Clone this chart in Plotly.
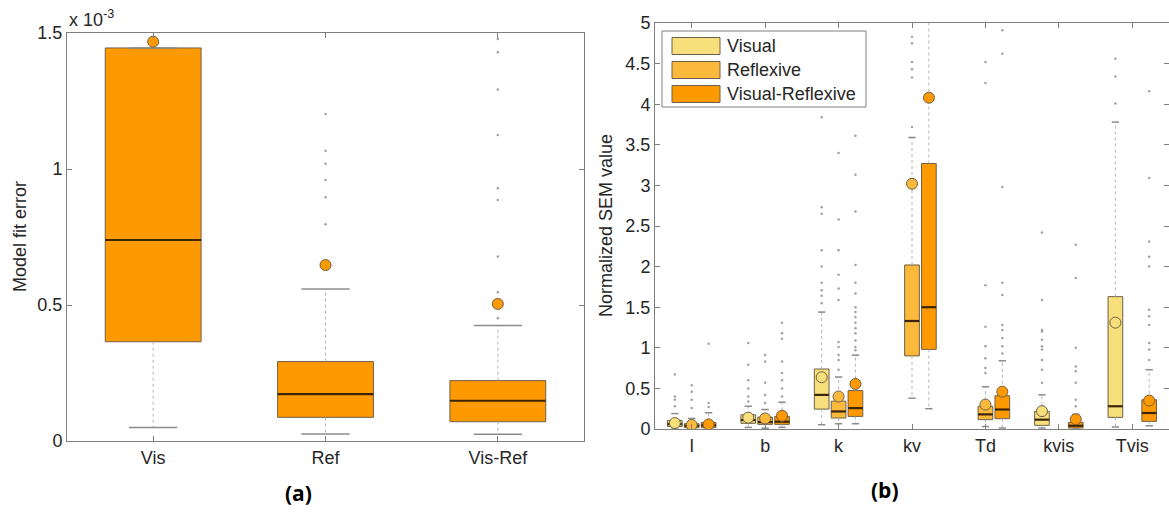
import plotly.graph_objects as go

# ---------------- Panel (a): model fit error per model ----------------
models = ["Vis", "Ref", "Vis-Ref"]
fit_q1 = [0.365e-3, 0.087e-3, 0.071e-3]
fit_med = [0.739e-3, 0.172e-3, 0.148e-3]
fit_q3 = [1.445e-3, 0.292e-3, 0.222e-3]
fit_lo = [0.050e-3, 0.026e-3, 0.025e-3]
fit_hi = [1.445e-3, 0.559e-3, 0.425e-3]
fit_mark = [1.468e-3, 0.647e-3, 0.504e-3]
fit_outliers = [
    [],
    [1.202e-3, 1.067e-3, 1.019e-3, 0.960e-3, 0.896e-3, 0.797e-3],
    [1.478e-3, 1.429e-3, 1.292e-3, 1.125e-3, 0.929e-3, 0.886e-3, 0.678e-3, 0.547e-3, 0.451e-3],
]
fit_ticks = [0, 0.5e-3, 1.0e-3, 1.5e-3]
fit_ticktext = ["0", "0.5", "1", "1.5"]

# ---------------- Panel (b): normalized SEM per parameter ----------------
params = ["l", "b", "k", "kv", "Td", "kvis", "Tvis"]
series_names = ["Visual", "Reflexive", "Visual-Reflexive"]

vis_q1 = [0.03, 0.07, 0.245, None, None, 0.045, 0.143]
vis_med = [0.06, 0.11, 0.42, None, None, 0.115, 0.28]
vis_q3 = [0.105, 0.175, 0.739, None, None, 0.217, 1.63]
vis_lo = [0.0, 0.02, 0.053, None, None, 0.012, 0.025]
vis_hi = [0.19, 0.28, 1.44, None, None, 0.42, 3.78]
vis_mark = [0.073, 0.14, 0.637, None, None, 0.22, 1.31]
vis_out = [
    [0.28, 0.36, 0.40, 0.67],
    [0.34, 0.40, 0.50, 0.60, 0.79, 1.06],
    [1.55, 1.64, 1.71, 1.80, 2.0, 2.2, 2.65, 2.73, 3.84],
    [],
    [],
    [0.57, 0.73, 0.85, 0.98, 1.02, 1.10, 1.20, 1.22, 1.59, 2.42],
    [4.01, 4.34, 4.56],
]

ref_q1 = [0.016, 0.057, 0.135, 0.90, 0.115, None, None]
ref_med = [0.04, 0.085, 0.216, 1.33, 0.18, None, None]
ref_q3 = [0.065, 0.147, 0.343, 2.02, 0.28, None, None]
ref_lo = [0.0, 0.01, 0.065, 0.38, 0.03, None, None]
ref_hi = [0.13, 0.24, 0.64, 3.59, 0.52, None, None]
ref_mark = [0.05, 0.13, 0.40, 3.02, 0.30, None, None]
ref_out = [
    [0.26, 0.36, 0.46, 0.54],
    [0.32, 0.42, 0.57, 0.83, 0.91],
    [0.73, 0.85, 0.91, 1.01, 1.07, 1.59, 1.73, 1.90, 2.2, 2.58, 3.40],
    [3.72, 4.33, 4.43, 4.52, 4.75, 4.83],
    [0.69, 0.75, 0.87, 1.02, 1.26, 1.77, 4.26, 4.52],
    [],
    [],
]

vr_q1 = [0.016, 0.057, 0.155, 0.98, 0.127, 0.012, 0.094]
vr_med = [0.045, 0.09, 0.257, 1.50, 0.24, 0.04, 0.197]
vr_q3 = [0.08, 0.155, 0.473, 3.27, 0.41, 0.082, 0.36]
vr_lo = [0.0, 0.02, 0.065, 0.25, 0.012, 0.0, 0.04]
vr_hi = [0.20, 0.33, 0.91, 5.6, 0.84, 0.18, 0.73]
vr_mark = [0.057, 0.163, 0.555, 4.08, 0.46, 0.12, 0.35]
vr_out = [
    [0.27, 0.32, 1.05],
    [0.40, 0.50, 0.60, 0.69, 0.83, 1.11, 1.18, 1.31],
    [0.97, 1.01, 1.09, 1.18, 1.24, 1.31, 1.38, 1.44, 1.50, 1.67, 1.80, 2.02, 2.68, 3.13, 3.61],
    [],
    [0.93, 1.02, 1.12, 1.22, 1.28, 1.65, 1.80, 2.98, 4.62, 4.91],
    [0.28, 0.36, 0.57, 0.71, 0.77, 1.0, 1.86, 2.27],
    [0.85, 0.98, 1.06, 1.28, 1.39, 1.47, 2.0, 2.12, 2.31, 3.09, 4.16],
]
sem_ticks = [0, 0.5, 1, 1.5, 2, 2.5, 3, 3.5, 4, 4.5, 5]

# ---------------- styling ----------------
FONT = "Liberation Sans, Arial, sans-serif"
FS = 18
TXT = "#262626"
AXIS_GRAY = "#7f7f7f"
EDGE = "#6e6048"
MEDIAN = "#3a2508"
WHISKER = "#b4b4b4"
CAP = "#8c8c8c"
OUTLIER = "#a0a0a0"
COL_VIS = "#f7df7c"
COL_REF = "#fbb93c"
COL_VR = "#ff9900"
W, H = 1169, 514

fig = go.Figure()


def add_box_series(xs, q1, med, q3, lo, hi, mark, outl, color, width, capw,
                   xa, ya, mark_size):
    keep = [i for i in range(len(xs)) if q1[i] is not None]
    px = [xs[i] for i in keep]

    wx, wy, cx, cy, mx, my = [], [], [], [], [], []
    for i, p in zip(keep, px):
        wx += [p, p, None, p, p, None]
        wy += [q3[i], hi[i], None, q1[i], lo[i], None]
        cx += [p - capw / 2, p + capw / 2, None, p - capw / 2, p + capw / 2, None]
        cy += [hi[i], hi[i], None, lo[i], lo[i], None]
        mx += [p - width / 2, p + width / 2, None]
        my += [med[i], med[i], None]

    ox, oy = [], []
    for i, p in zip(keep, px):
        ox += [p] * len(outl[i])
        oy += outl[i]

    common = dict(xaxis=xa, yaxis=ya, showlegend=False, hoverinfo="skip")
    fig.add_trace(go.Scatter(x=wx, y=wy, mode="lines",
                             line=dict(color=WHISKER, width=1, dash="dot"), **common))
    fig.add_trace(go.Scatter(x=cx, y=cy, mode="lines",
                             line=dict(color=CAP, width=1.5), **common))
    fig.add_trace(go.Scatter(x=ox, y=oy, mode="markers",
                             marker=dict(color=OUTLIER, size=2.5, line=dict(width=0)),
                             **common))
    fig.add_trace(go.Bar(x=px, y=[q3[i] - q1[i] for i in keep], base=[q1[i] for i in keep],
                         width=width, marker=dict(color=color, line=dict(color=EDGE, width=1)),
                         **common))
    fig.add_trace(go.Scatter(x=mx, y=my, mode="lines",
                             line=dict(color=MEDIAN, width=2.2), **common))
    fig.add_trace(go.Scatter(x=px, y=[mark[i] for i in keep], mode="markers",
                             marker=dict(color=color, size=mark_size,
                                         line=dict(color=EDGE, width=1)),
                             **common))


# panel (a)
pos_a = list(range(1, len(models) + 1))
add_box_series(pos_a, fit_q1, fit_med, fit_q3, fit_lo, fit_hi, fit_mark, fit_outliers,
               COL_VR, 0.556, 0.28, "x", "y", 11)

# panel (b)
pos_b = list(range(1, len(params) + 1))
offsets = [-0.23, 0.0, 0.23]
groups = [
    (vis_q1, vis_med, vis_q3, vis_lo, vis_hi, vis_mark, vis_out, COL_VIS),
    (ref_q1, ref_med, ref_q3, ref_lo, ref_hi, ref_mark, ref_out, COL_REF),
    (vr_q1, vr_med, vr_q3, vr_lo, vr_hi, vr_mark, vr_out, COL_VR),
]
for off, g in zip(offsets, groups):
    xs = [p + off for p in pos_b]
    add_box_series(xs, *g[:7], g[7], 0.2, 0.1, "x2", "y2", 11)

axis_common = dict(
    showline=True, linecolor=AXIS_GRAY, linewidth=1, mirror="ticks",
    ticks="inside", ticklen=5, tickcolor=AXIS_GRAY, showgrid=False, zeroline=False,
    automargin=False, tickfont=dict(family=FONT, size=FS, color=TXT),
)

# panel frames in pixel terms
A_L, A_R, A_T, A_B = 67, 584, 33, 441
B_L, B_R, B_T, B_B = 655, 1169, 23, 429

fig.update_layout(
    width=W, height=H,
    margin=dict(l=0, r=0, t=0, b=0, autoexpand=False),
    paper_bgcolor="white", plot_bgcolor="white",
    barmode="overlay", showlegend=False,
    xaxis=dict(domain=[A_L / W, A_R / W], range=[0.5, 3.5], tickvals=pos_a,
               ticktext=models, anchor="y", **axis_common),
    yaxis=dict(domain=[1 - A_B / H, 1 - A_T / H], range=[0, 1.5e-3], tickvals=fit_ticks,
               ticktext=fit_ticktext, anchor="x", **axis_common),
    xaxis2=dict(domain=[B_L / W, B_R / W], range=[0.5, 7.5], tickvals=pos_b,
                ticktext=params, anchor="y2", **axis_common),
    yaxis2=dict(domain=[1 - B_B / H, 1 - B_T / H], range=[0, 5], tickvals=sem_ticks,
                ticktext=[f"{t:g}" for t in sem_ticks], anchor="x2", **axis_common),
)

annotations = [
    dict(text="x 10<sup>-3</sup>", x=A_L / W, y=1 - A_T / H, xref="paper", yref="paper",
         xanchor="left", yanchor="bottom", yshift=1, showarrow=False,
         font=dict(family=FONT, size=FS, color=TXT)),
    dict(text="Model fit error", x=20 / W, y=1 - (A_T + A_B) / 2 / H, xref="paper",
         yref="paper", xanchor="center", yanchor="middle", textangle=-90, showarrow=False,
         font=dict(family=FONT, size=FS, color=TXT)),
    dict(text="Normalized SEM value", x=606 / W, y=1 - (B_T + B_B) / 2 / H, xref="paper",
         yref="paper", xanchor="center", yanchor="middle", textangle=-90, showarrow=False,
         font=dict(family=FONT, size=FS, color=TXT)),
    dict(text="<b>(a)</b>", x=298 / W, y=1 - 493 / H, xref="paper", yref="paper",
         xanchor="center", yanchor="middle", showarrow=False,
         font=dict(family="Open Sans", size=21, color="black")),
    dict(text="<b>(b)</b>", x=885 / W, y=1 - 490 / H, xref="paper", yref="paper",
         xanchor="center", yanchor="middle", showarrow=False,
         font=dict(family="Open Sans", size=21, color="black")),
]

# legend drawn as a framed box with wide colour swatches
shapes = [dict(type="rect", xref="paper", yref="paper",
               x0=662 / W, x1=866 / W, y0=1 - 107 / H, y1=1 - 31 / H,
               line=dict(color=AXIS_GRAY, width=1), fillcolor="white", layer="above")]
legend_colors = [COL_VIS, COL_REF, COL_VR]
for k, (name, col) in enumerate(zip(series_names, legend_colors)):
    yc = 46 + 24 * k
    shapes.append(dict(type="rect", xref="paper", yref="paper",
                       x0=672 / W, x1=720 / W,
                       y0=1 - (yc + 8.5) / H, y1=1 - (yc - 8.5) / H,
                       line=dict(color=EDGE, width=1), fillcolor=col, layer="above"))
    annotations.append(dict(text=name, x=725 / W, y=1 - yc / H, xref="paper",
                            yref="paper", xanchor="left", yanchor="middle", showarrow=False,
                            font=dict(family=FONT, size=FS, color=TXT)))

fig.update_layout(annotations=annotations, shapes=shapes)
fig.write_html("out.html")
